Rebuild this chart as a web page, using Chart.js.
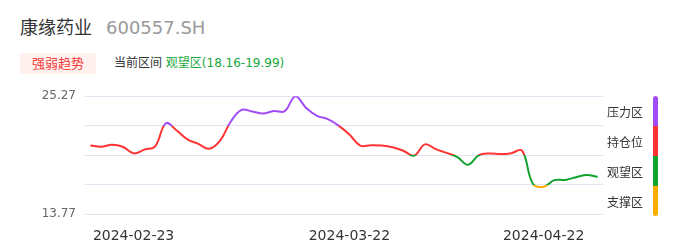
<!DOCTYPE html>
<html>
<head>
<meta charset="utf-8">
<script src="https://cdn.jsdelivr.net/npm/chart.js@4"></script>
<style>
  html, body { margin:0; padding:0; background:#fff; }
  body { width:686px; height:247px; position:relative; overflow:hidden;
         font-family:"DejaVu Sans","Noto Sans CJK SC",sans-serif; color:#333; }
  .title { position:absolute; left:20px; top:15px; font-size:18px; line-height:26px; white-space:nowrap; }
  .title .code { color:#999; margin-left:14px; }
  .badge { position:absolute; left:20px; top:53px; width:76px; height:21px; background:#fff1ee;
           color:#f43a3a; font-size:13px; line-height:21px; text-align:center; }
  .range { position:absolute; left:114px; top:54px; font-size:12px; line-height:19px; white-space:nowrap; }
  .range .zone { color:#17a83a; }
  #wrap { position:absolute; left:0; top:80px; width:610px; height:167px; }
  .legend { position:absolute; left:607px; top:98px; }
  .legend div { height:30px; line-height:30px; font-size:12px; color:#333; }
  .bar { position:absolute; left:653px; top:96px; width:5px; height:120px; border-radius:2.5px; }
</style>
</head>
<body>
<div class="title">康缘药业<span class="code">600557.SH</span></div>
<div class="badge">强弱趋势</div>
<div class="range">当前区间 <span class="zone">观望区(18.16-19.99)</span></div>
<div id="wrap"><canvas id="c"></canvas></div>
<div class="legend" id="legend"></div>
<div class="bar" id="bar"></div>
<script>
// trading days shown on the x axis
const dates = [
  '2024-02-19','2024-02-20','2024-02-21','2024-02-22','2024-02-23',
  '2024-02-26','2024-02-27','2024-02-28','2024-02-29','2024-03-01',
  '2024-03-04','2024-03-05','2024-03-06','2024-03-07','2024-03-08',
  '2024-03-11','2024-03-12','2024-03-13','2024-03-14','2024-03-15',
  '2024-03-18','2024-03-19','2024-03-20','2024-03-21','2024-03-22',
  '2024-03-25','2024-03-26','2024-03-27','2024-03-28','2024-03-29',
  '2024-04-01','2024-04-02',
  '2024-04-08','2024-04-09','2024-04-10','2024-04-11','2024-04-12',
  '2024-04-15','2024-04-16','2024-04-17','2024-04-18','2024-04-19',
  '2024-04-22','2024-04-23','2024-04-24','2024-04-25','2024-04-26','2024-04-29'
];
const prices = [
  20.46, 20.34, 20.53, 20.33, 19.69, 20.05, 20.38, 22.63, 21.92, 21.05,
  20.62, 20.14, 20.91, 22.78, 23.93, 23.78, 23.57, 23.83, 23.81, 25.27,
  24.12, 23.35, 23.04, 22.40, 21.53, 20.45, 20.48, 20.45, 20.29, 19.95,
  19.47, 20.57, 20.10, 19.74, 19.33, 18.58, 19.52, 19.68, 19.62, 19.71,
  19.95, 16.72, 16.44, 17.08, 17.10, 17.36, 17.58, 17.39
];
const shownDates = ['2024-02-23', '2024-03-22', '2024-04-22'];
const yTicks = [13.77, 16.645, 19.52, 22.395, 25.27];

// zones, top to bottom
const zoneNames = ['压力区', '持仓位', '观望区', '支撑区'];
const zoneColors = ['#a24cf5', '#ff3333', '#10a32d', '#ffad00'];
const zoneBounds = [22.395, 19.52, 16.645];

// legend on the right
const legend = document.getElementById('legend');
zoneNames.forEach(n => { const d = document.createElement('div'); d.textContent = n; legend.appendChild(d); });
document.getElementById('bar').style.background = 'linear-gradient(to bottom,' +
  zoneColors.map((c, i) => `${c} ${i*25}%, ${c} ${(i+1)*25}%`).join(',') + ')';

function zoneGradient(context){
  const chart = context.chart;
  const {chartArea, scales} = chart;
  if(!chartArea) return zoneColors[1];
  const y = scales.y;
  const top = y.getPixelForValue(y.max), bot = y.getPixelForValue(y.min);
  const g = chart.ctx.createLinearGradient(0, top, 0, bot);
  let prev = 0;
  zoneColors.forEach((c, i) => {
    const next = i < zoneBounds.length ? (y.getPixelForValue(zoneBounds[i]) - top) / (bot - top) : 1;
    g.addColorStop(prev, c);
    g.addColorStop(next, c);
    prev = next;
  });
  return g;
}

new Chart(document.getElementById('c'), {
  type: 'line',
  data: {
    labels: dates,
    datasets: [{ data: prices, borderColor: zoneGradient, borderWidth: 2, pointRadius: 0,
                 tension: 0.4, fill: false }]
  },
  options: {
    responsive: true, maintainAspectRatio: false, animation: false,
    layout: { padding: { top: 14, right: 7, left: 0, bottom: 0 } },
    plugins: { legend: { display: false }, tooltip: { enabled: false } },
    scales: {
      x: {
        offset: true,
        grid: { display: false }, border: { display: false },
        ticks: {
          autoSkip: false, maxRotation: 0, padding: 6, color: '#333',
          font: { family: 'DejaVu Sans', size: 14 },
          callback: function(v, i){ const d = this.getLabelForValue(v); return shownDates.includes(d) ? d : ''; }
        },
        afterFit: s => { s.height = 33; }
      },
      y: {
        min: 13.77, max: 25.27,
        afterBuildTicks: s => { s.ticks = yTicks.map(v => ({ value: v })); },
        grid: { color: '#e0e6f1', drawTicks: false }, border: { display: false },
        ticks: {
          padding: 9, color: '#666', font: { family: 'DejaVu Sans', size: 12 },
          callback: v => (v === yTicks[0] || v === yTicks[yTicks.length-1]) ? v.toFixed(2) : ''
        },
        afterFit: s => { s.width = 85; }
      }
    }
  }
});
</script>
</body>
</html>
